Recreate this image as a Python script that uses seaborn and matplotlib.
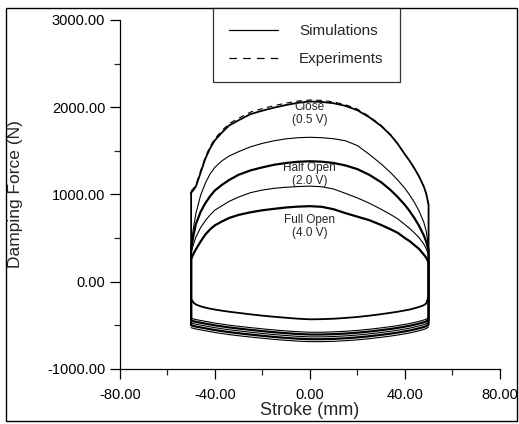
import pandas as pd
import seaborn as sns
import matplotlib.pyplot as plt
from matplotlib.patches import Rectangle
from matplotlib.lines import Line2D
from matplotlib.ticker import MultipleLocator, FormatStrFormatter

# stroke positions (mm) where the curves were read
stroke = [-50, -49, -48, -46, -44, -42, -40, -37, -34, -30, -25, -20, -15, -10, -5, 0,
          5, 10, 15, 20, 25, 30, 34, 37, 40, 42, 44, 46, 48, 49, 50]

# compression side (upper arcs), N
close_up = [1020, 1050, 1090, 1250, 1410, 1530, 1620, 1710, 1790, 1850, 1920, 1960, 1995, 2025, 2050, 2065,
            2060, 2045, 2015, 1965, 1885, 1785, 1680, 1580, 1460, 1385, 1300, 1205, 1090, 1010, 880]
close_exp = [1040, 1070, 1110, 1270, 1430, 1550, 1640, 1732, 1812, 1873, 1943, 1984, 2018, 2047, 2070, 2082,
             2078, 2060, 2028, 1978, 1895, 1792, 1685, 1583, 1462, 1386, 1300, 1205, 1090, 1010, 880]
mid1_up = [420, 620, 780, 990, 1130, 1235, 1310, 1385, 1440, 1490, 1545, 1585, 1615, 1637, 1650, 1655,
           1650, 1638, 1615, 1560, 1460, 1350, 1250, 1165, 1070, 995, 910, 810, 680, 580, 400]
half_up = [380, 530, 660, 800, 900, 980, 1045, 1110, 1165, 1225, 1275, 1310, 1340, 1360, 1374, 1380,
           1375, 1360, 1332, 1290, 1225, 1140, 1050, 970, 880, 810, 730, 640, 530, 460, 360]
mid2_up = [330, 430, 510, 620, 700, 765, 820, 870, 920, 970, 1020, 1050, 1070, 1082, 1090, 1095,
           1088, 1062, 1012, 960, 900, 830, 770, 720, 655, 610, 560, 505, 430, 380, 300]
full_up = [260, 320, 370, 460, 540, 600, 645, 690, 730, 765, 795, 818, 835, 850, 860, 865,
           858, 830, 785, 745, 705, 650, 600, 560, 500, 465, 420, 375, 310, 275, 220]

# rebound side (lower arcs), N
rebound = [-200, -240, -262, -283, -298, -310, -320, -333, -345, -358, -375, -390, -403, -414, -425, -432,
           -430, -425, -416, -405, -390, -373, -357, -345, -330, -320, -306, -290, -270, -250, -170]
low1 = [-420, -428, -435, -445, -455, -465, -475, -487, -499, -512, -527, -541, -554, -565, -574, -580,
        -580, -576, -569, -559, -546, -530, -516, -504, -490, -480, -468, -455, -440, -430, -410]
low2 = [-446, -454, -461, -471, -481, -491, -501, -513, -525, -538, -553, -567, -580, -591, -600, -606,
        -606, -602, -595, -585, -572, -556, -542, -530, -516, -506, -494, -481, -466, -456, -436]
low3 = [-473, -481, -488, -498, -508, -518, -528, -540, -552, -565, -580, -594, -607, -618, -627, -633,
        -633, -629, -622, -612, -599, -583, -569, -557, -543, -533, -521, -508, -493, -483, -463]
low4 = [-500, -508, -515, -525, -535, -545, -555, -567, -579, -592, -607, -621, -634, -645, -654, -660,
        -660, -656, -649, -639, -626, -610, -596, -584, -570, -560, -548, -535, -520, -510, -490]
low5 = [-528, -536, -543, -553, -563, -573, -583, -595, -607, -620, -635, -649, -662, -673, -682, -688,
        -688, -684, -677, -667, -654, -638, -624, -612, -598, -588, -576, -563, -548, -538, -518]

labels = [("Close\n(0.5 V)", 1930), ("Half Open\n(2.0 V)", 1230), ("Full Open\n(4.0 V)", 630)]


def loop(up, low):
    # upper arc left->right, then lower arc right->left, back to start
    x = stroke + stroke[::-1] + [stroke[0]]
    y = up + low[::-1] + [up[0]]
    return pd.DataFrame({"x": x, "y": y})


sns.set_style("ticks")
plt.rcParams["font.family"] = ["Liberation Sans", "DejaVu Sans"]

fig = plt.figure(figsize=(5.19, 4.24), dpi=100)
ax = fig.add_axes([0.231, 0.130, 0.732, 0.823])

loops = [(close_up, rebound, 1.3), (mid1_up, low1, 0.8), (half_up, low2, 1.6),
         (mid2_up, low3, 0.8), (full_up, low4, 1.6)]
for up, low, lw in loops:
    d = loop(up, low)
    sns.lineplot(data=d, x="x", y="y", sort=False, estimator=None, color="black", linewidth=lw, ax=ax)
sns.lineplot(x=stroke, y=low5, sort=False, estimator=None, color="black", linewidth=0.8, ax=ax)
sns.lineplot(x=stroke, y=close_exp, sort=False, estimator=None, color="black", linewidth=0.8,
             linestyle=(0, (5, 4)), ax=ax)

for txt, yv in labels:
    ax.text(0, yv, txt, ha="center", va="center", fontsize=8.5, linespacing=1.1)

ax.set_xlim(-80, 80)
ax.set_ylim(-1000, 3000)
ax.xaxis.set_major_locator(MultipleLocator(40))
ax.xaxis.set_minor_locator(MultipleLocator(20))
ax.yaxis.set_major_locator(MultipleLocator(1000))
ax.yaxis.set_minor_locator(MultipleLocator(500))
ax.xaxis.set_major_formatter(FormatStrFormatter("%.2f"))
ax.yaxis.set_major_formatter(FormatStrFormatter("%.2f"))
ax.tick_params(which="major", direction="out", length=7, width=0.9, labelsize=10.5, colors="black")
ax.tick_params(axis="x", which="major", pad=7)
ax.tick_params(which="minor", direction="out", length=4, width=0.9)
for s in ["top", "right"]:
    ax.spines[s].set_visible(False)
for s in ["left", "bottom"]:
    ax.spines[s].set_linewidth(0.9)
    ax.spines[s].set_color("black")
ax.set_xlabel("Stroke (mm)", fontsize=13)
ax.set_ylabel("Damping Force (N)", fontsize=12.5)
ax.xaxis.set_label_coords(0.5, -0.095)
ax.yaxis.set_label_coords(-0.255, 0.5)

# legend
handles = [Line2D([], [], color="black", lw=0.9),
           Line2D([], [], color="black", lw=0.9, linestyle=(0, (6, 5)))]
leg = fig.legend(handles, ["Simulations", "Experiments"], loc="upper left",
                 bbox_to_anchor=(0.410, 0.981), bbox_transform=fig.transFigure,
                 fontsize=11, frameon=True, fancybox=False, edgecolor="black",
                 handlelength=3.2, handletextpad=1.4, borderpad=1.05, labelspacing=0.9,
                 borderaxespad=0)
leg.get_frame().set_linewidth(0.9)

# frame around the whole figure
fig.patches.append(Rectangle((0.0116, 0.007), 0.984, 0.974, transform=fig.transFigure,
                             fill=False, edgecolor="black", linewidth=1.0))

fig.savefig("out.png", dpi=100)
